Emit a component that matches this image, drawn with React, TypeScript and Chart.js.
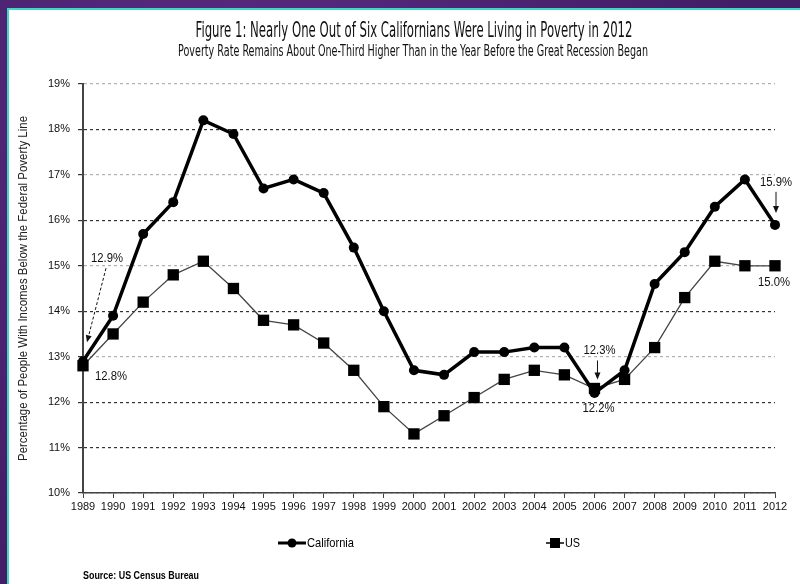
import React, { useEffect, useRef } from "react";
import { Chart, registerables } from "chart.js";

Chart.register(...registerables);

const years = ["1989","1990","1991","1992","1993","1994","1995","1996","1997","1998","1999","2000","2001","2002","2003","2004","2005","2006","2007","2008","2009","2010","2011","2012"];
const california = [12.9,13.9,15.7,16.4,18.2,17.9,16.7,16.9,16.6,15.4,14.0,12.7,12.6,13.1,13.1,13.2,13.2,12.2,12.7,14.6,15.3,16.3,16.9,15.9];
const us = [12.8,13.5,14.2,14.8,15.1,14.5,13.8,13.7,13.3,12.7,11.9,11.3,11.7,12.1,12.5,12.7,12.6,12.3,12.5,13.2,14.3,15.1,15.0,15.0];
const yMin = 10;
const yMax = 19;
const lightGridValues = [19, 17, 15, 13];

const titleText = "Figure 1: Nearly One Out of Six Californians Were Living in Poverty in 2012";
const subtitleText = "Poverty Rate Remains About One-Third Higher Than in the Year Before the Great Recession Began";
const yAxisTitle = "Percentage of People With Incomes Below the Federal Poverty Line";
const sourceText = "Source: US Census Bureau";
const seriesNames = ["California", "US"];

// callouts: dataset index, point index, label
const callouts = [
  { ds: 0, i: 0, text: "12.9%" },
  { ds: 1, i: 0, text: "12.8%" },
  { ds: 1, i: 17, text: "12.3%" },
  { ds: 0, i: 17, text: "12.2%" },
  { ds: 0, i: 23, text: "15.9%" },
  { ds: 1, i: 23, text: "15.0%" },
];

function fitText(ctx: CanvasRenderingContext2D, text: string, x: number, y: number, font: string, width: number, align: "center" | "left" = "center") {
  ctx.save();
  ctx.font = font;
  const w = ctx.measureText(text).width;
  const s = width / w;
  ctx.translate(x, y);
  ctx.scale(s, 1);
  ctx.textAlign = align;
  ctx.fillText(text, 0, 0);
  ctx.restore();
}

function arrow(ctx: CanvasRenderingContext2D, x1: number, y1: number, x2: number, y2: number, dashed: boolean) {
  const ang = Math.atan2(y2 - y1, x2 - x1);
  const hl = 7, hw = 3;
  ctx.save();
  ctx.strokeStyle = "#111";
  ctx.fillStyle = "#111";
  ctx.lineWidth = 1;
  ctx.setLineDash(dashed ? [3, 2] : []);
  ctx.beginPath();
  ctx.moveTo(x1, y1);
  ctx.lineTo(x2 - Math.cos(ang) * hl * 0.8, y2 - Math.sin(ang) * hl * 0.8);
  ctx.stroke();
  ctx.setLineDash([]);
  ctx.beginPath();
  ctx.moveTo(x2, y2);
  ctx.lineTo(x2 - Math.cos(ang) * hl - Math.sin(ang) * hw, y2 - Math.sin(ang) * hl + Math.cos(ang) * hw);
  ctx.lineTo(x2 - Math.cos(ang) * hl + Math.sin(ang) * hw, y2 - Math.sin(ang) * hl - Math.cos(ang) * hw);
  ctx.closePath();
  ctx.fill();
  ctx.restore();
}

const decorPlugin = {
  id: "decor",
  afterDraw(chart: any) {
    const ctx: CanvasRenderingContext2D = chart.ctx;
    const area = chart.chartArea;
    ctx.save();
    ctx.fillStyle = "#111";
    ctx.textBaseline = "alphabetic";
    // titles
    fitText(ctx, titleText, 414, 37, "22px 'DejaVu Sans'", 437);
    fitText(ctx, subtitleText, 413, 56, "16px 'DejaVu Sans'", 470);
    // y axis title
    ctx.save();
    ctx.translate(27, (area.top + area.bottom) / 2);
    ctx.rotate(-Math.PI / 2);
    ctx.fillStyle = "#222";
    fitText(ctx, yAxisTitle, 0, 0, "12px 'Liberation Sans'", 345);
    ctx.restore();

    // callouts
    const pt = (ds: number, i: number) => chart.getDatasetMeta(ds).data[i];
    ctx.fillStyle = "#111";
    ctx.textBaseline = "middle";
    const font = "12px 'Liberation Sans'";
    const w = 32;
    const c = callouts;
    let p = pt(c[0].ds, c[0].i);
    fitText(ctx, c[0].text, p.x + 24, p.y - 103, font, w);
    arrow(ctx, p.x + 23, p.y - 93, p.x + 4, p.y - 19, true);
    p = pt(c[1].ds, c[1].i);
    fitText(ctx, c[1].text, p.x + 28, p.y + 11, font, w);
    p = pt(c[2].ds, c[2].i);
    fitText(ctx, c[2].text, p.x + 5, p.y - 38, font, w);
    arrow(ctx, p.x + 3, p.y - 28, p.x + 3, p.y - 9, false);
    p = pt(c[3].ds, c[3].i);
    fitText(ctx, c[3].text, p.x + 4, p.y + 16, font, w);
    p = pt(c[4].ds, c[4].i);
    fitText(ctx, c[4].text, p.x + 1, p.y - 42, font, w);
    arrow(ctx, p.x + 1, p.y - 33, p.x + 1, p.y - 12, false);
    p = pt(c[5].ds, c[5].i);
    fitText(ctx, c[5].text, p.x - 1, p.y + 17, font, w);

    // legend
    const ly = 543;
    ctx.strokeStyle = "#000";
    ctx.fillStyle = "#000";
    ctx.lineWidth = 3;
    ctx.beginPath();
    ctx.moveTo(278, ly);
    ctx.lineTo(306, ly);
    ctx.stroke();
    ctx.beginPath();
    ctx.arc(292, ly, 4.5, 0, Math.PI * 2);
    ctx.fill();
    fitText(ctx, seriesNames[0], 307, ly, "13px 'Liberation Sans'", 47, "left");
    ctx.lineWidth = 1.5;
    ctx.beginPath();
    ctx.moveTo(546, ly);
    ctx.lineTo(564, ly);
    ctx.stroke();
    ctx.fillRect(550, ly - 5, 10, 10);
    fitText(ctx, seriesNames[1], 565, ly, "13px 'Liberation Sans'", 15, "left");

    // source
    fitText(ctx, sourceText, 83, 576, "bold 10px 'Liberation Sans'", 116, "left");
    ctx.restore();
  },
};

export default function App() {
  const ref = useRef<HTMLCanvasElement | null>(null);
  useEffect(() => {
    if (!ref.current) return;
    const chart = new Chart(ref.current, {
      type: "line",
      data: {
        labels: years,
        datasets: [
          {
            label: seriesNames[0],
            data: california,
            borderColor: "#000",
            backgroundColor: "#000",
            borderWidth: 3.5,
            pointStyle: "circle",
            pointRadius: 5,
            pointBackgroundColor: "#000",
            pointBorderWidth: 0,
            tension: 0,
          },
          {
            label: seriesNames[1],
            data: us,
            borderColor: "#444",
            backgroundColor: "#000",
            borderWidth: 1.3,
            pointStyle: "rect",
            pointRadius: 8,
            pointBackgroundColor: "#000",
            pointBorderWidth: 0,
            tension: 0,
          },
        ],
      },
      options: {
        responsive: false,
        animation: false,
        devicePixelRatio: 1,
        layout: { padding: { left: 9, right: 25, top: 84, bottom: 61 } },
        plugins: {
          legend: { display: false },
          title: { display: false },
          tooltip: { enabled: false },
        },
        scales: {
          x: {
            type: "category",
            offset: false,
            afterFit: (s: any) => { s.height = 30; },
            grid: { drawOnChartArea: false, drawTicks: true, tickLength: 5, tickColor: "#444", color: "#444" },
            border: { display: true, color: "#444", width: 1.5 },
            ticks: { color: "#111", font: { family: "'Liberation Sans'", size: 11 }, padding: 2, maxRotation: 0, autoSkip: false },
          },
          y: {
            min: yMin,
            max: yMax,
            afterFit: (s: any) => { s.width = 74; },
            grid: {
              color: (c: any) => (c.tick && lightGridValues.includes(c.tick.value) ? "#b0b0b0" : "#333"),
              lineWidth: 1.2,
              tickLength: 5,
              tickColor: "#333",
            },
            border: { display: true, color: "#444", width: 2, dash: [3, 3] },
            ticks: {
              stepSize: 1,
              color: "#111",
              font: { family: "'Liberation Sans'", size: 11 },
              padding: 8,
              callback: (v: any) => v + "%",
            },
          },
        },
      },
      plugins: [decorPlugin],
    });
    return () => chart.destroy();
  }, []);

  return (
    <div style={{ position: "fixed", left: 0, top: 0, width: 800, height: 584, overflow: "hidden", background: "radial-gradient(circle at 30% 20%, #5a2a82 0%, #45206a 60%, #3c1a5e 100%)" }}>
      <div style={{ position: "absolute", left: 7, top: 8, right: 0, bottom: 0, background: "#fff", borderLeft: "2px solid #3fd8c8", borderTop: "2px solid #3fd8c8" }} />
      <canvas ref={ref} width={800} height={584} style={{ position: "absolute", left: 0, top: 0, width: 800, height: 584 }} />
    </div>
  );
}
